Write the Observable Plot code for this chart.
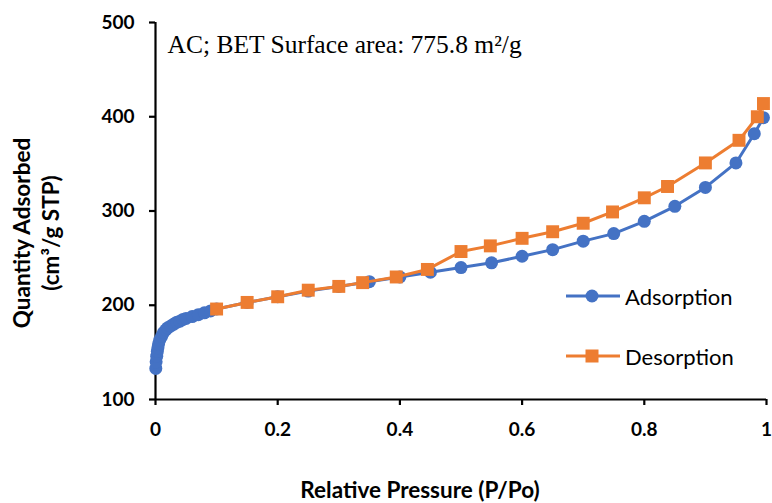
<!DOCTYPE html>
<html>
<head>
<meta charset="utf-8">
<script src="https://cdn.jsdelivr.net/npm/d3@7"></script>
<script src="https://cdn.jsdelivr.net/npm/@observablehq/plot@0.6"></script>
<style>
  html, body { margin: 0; padding: 0; background: #fff; }
  #wrap { position: relative; width: 772px; height: 503px; overflow: hidden; }
  .lbl { position: absolute; font-family: Lato, "Open Sans", sans-serif; font-weight: 700; color: #000; white-space: nowrap; }
  .leg { position: absolute; font-family: Lato, "Open Sans", sans-serif; font-size: 22px; color: #000; display: flex; align-items: center; white-space: nowrap; }
</style>
</head>
<body>
<div id="wrap"></div>
<script>
// Adsorption branch (relative pressure, quantity adsorbed)
const adsP = [0.0005, 0.001, 0.002, 0.003, 0.004, 0.005, 0.007, 0.01, 0.013, 0.017, 0.02, 0.025, 0.03, 0.035, 0.04, 0.045, 0.05, 0.06, 0.07, 0.08, 0.09, 0.1,
              0.15, 0.2, 0.25, 0.3, 0.35, 0.4, 0.45, 0.5, 0.55, 0.6, 0.65, 0.7, 0.75, 0.8, 0.85, 0.9, 0.95, 0.98, 0.995];
const adsQ = [133, 140, 146, 151, 155, 159, 163, 167, 171, 174, 176, 178, 180, 182, 183, 185, 186, 188, 190, 192, 194, 196,
              203, 209, 215, 220, 225, 230, 235, 240, 245, 252, 259, 268, 276, 289, 305, 325, 351, 382, 399];
// Desorption branch
const desP = [0.995, 0.985, 0.955, 0.9, 0.838, 0.8, 0.748, 0.7, 0.65, 0.6, 0.548, 0.5, 0.445, 0.394, 0.339, 0.3, 0.25, 0.2, 0.15, 0.1];
const desQ = [414, 400, 375, 351, 326, 314, 299, 287, 278, 271, 263, 257, 238, 230, 224, 220, 216, 209, 203, 196];

const xTicks = [0, 0.2, 0.4, 0.6, 0.8, 1];
const yTicks = [100, 200, 300, 400, 500];
const seriesNames = ["Adsorption", "Desorption"];
const titleText = "AC; BET Surface area: 775.8 m²/g";
const xTitle = "Relative Pressure (P/Po)";
const yTitle1 = "Quantity Adsorbed";
const yTitle2 = "(cm³/g STP)";

const BLUE = "#4472C4", ORANGE = "#ED7D31";

const ads = adsP.map((p, i) => ({p, q: adsQ[i]}));
const des = desP.map((p, i) => ({p, q: desQ[i]}));

const chart = Plot.plot({
  width: 772,
  height: 503,
  marginLeft: 155,
  marginRight: 6,
  marginTop: 22,
  marginBottom: 104,
  style: {fontFamily: "Lato, 'Open Sans', sans-serif", background: "#fff", overflow: "visible"},
  x: {domain: [0, 1]},
  y: {domain: [100, 500]},
  marks: [
    Plot.axisX({ticks: xTicks, tickSize: 6, tickPadding: 17, tickFormat: d => String(+d.toFixed(1)),
      label: null, fontSize: 19, fontWeight: 700, stroke: "#000", strokeWidth: 2.2, color: "#000"}),
    Plot.axisY({ticks: yTicks, tickSize: 6, tickPadding: 15, tickFormat: d => String(d),
      label: null, fontSize: 19, fontWeight: 700, stroke: "#000", strokeWidth: 2.2, color: "#000"}),
    Plot.ruleY([100], {stroke: "#000", strokeWidth: 2.2}),
    Plot.ruleX([0], {stroke: "#000", strokeWidth: 2.2}),
    Plot.line(ads, {x: "p", y: "q", stroke: BLUE, strokeWidth: 3}),
    Plot.dot(ads, {x: "p", y: "q", r: 6.5, fill: BLUE, symbol: "circle"}),
    Plot.line(des, {x: "p", y: "q", stroke: ORANGE, strokeWidth: 3}),
    Plot.dot(des, {x: "p", y: "q", r: 7.3, fill: ORANGE, symbol: "square"}),
    Plot.text([titleText], {frameAnchor: "top-left", dx: 12, dy: 12, text: d => d,
      fontFamily: "'Liberation Serif', 'DejaVu Serif', serif", fontSize: 25.5, fill: "#000", textAnchor: "start", lineAnchor: "top"})
  ]
});

const wrap = document.getElementById("wrap");
wrap.appendChild(chart);

// axis titles
const xt = document.createElement("div");
xt.className = "lbl";
xt.style.cssText += "left:0;top:476px;width:840px;text-align:center;font-size:22.5px;";
xt.textContent = xTitle;
wrap.appendChild(xt);

const yt = document.createElement("div");
yt.className = "lbl";
yt.style.cssText += "left:36px;top:233px;font-size:22.5px;line-height:29px;text-align:center;transform:translate(-50%,-50%) rotate(-90deg);";
yt.innerHTML = yTitle1 + "<br>" + yTitle2;
wrap.appendChild(yt);

// legend
const legendColors = [BLUE, ORANGE];
const legendSymbols = ["circle", "square"];
const legendTops = [296, 356];
seriesNames.forEach((name, i) => {
  const d = document.createElement("div");
  d.className = "leg";
  d.style.left = "565px";
  d.style.top = (legendTops[i] - 14) + "px";
  d.style.height = "28px";
  const sym = legendSymbols[i] === "circle"
    ? `<circle cx="27" cy="14" r="6.5" fill="${legendColors[i]}"/>`
    : `<rect x="20.5" y="7.5" width="13" height="13" fill="${legendColors[i]}"/>`;
  d.innerHTML = `<svg width="56" height="28" style="margin-right:4px"><line x1="1" x2="55" y1="14" y2="14" stroke="${legendColors[i]}" stroke-width="3"/>${sym}</svg><span>${name}</span>`;
  wrap.appendChild(d);
});
</script>
</body>
</html>
